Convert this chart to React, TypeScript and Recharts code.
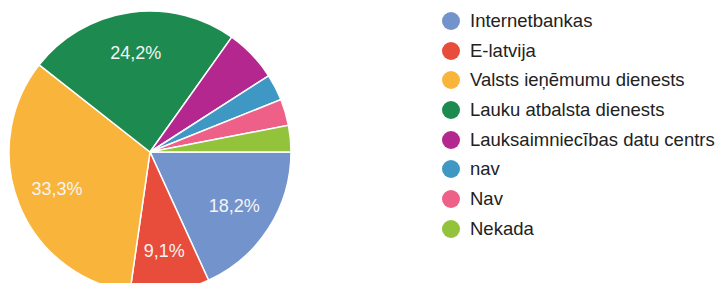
import React from 'react';
import { PieChart, Pie, Cell } from 'recharts';

const categories = [
  'Internetbankas',
  'E-latvija',
  'Valsts ieņēmumu dienests',
  'Lauku atbalsta dienests',
  'Lauksaimniecības datu centrs',
  'nav',
  'Nav',
  'Nekada',
];
const counts = [6, 3, 11, 8, 2, 1, 1, 1];
const colors = ['#7393cc', '#e84c3a', '#f9b53b', '#1d8b50', '#b4278e', '#3f98c4', '#ef6088', '#93c23b'];

const data = categories.map((name, i) => ({ name, value: counts[i] }));

const RAD = Math.PI / 180;

const renderLabel = (props: any) => {
  const { cx, cy, midAngle, outerRadius, percent } = props;
  if (percent < 0.08) return null;
  const r = outerRadius * 0.71;
  const x = cx + r * Math.cos(-midAngle * RAD);
  const y = cy + r * Math.sin(-midAngle * RAD);
  const txt = (percent * 100).toFixed(1).replace('.', ',') + '%';
  return (
    <text x={x} y={y} fill="#f4f4f4" fontSize={18} fontFamily="Liberation Sans, Arial, sans-serif" textAnchor="middle" dominantBaseline="central">
      {txt}
    </text>
  );
};

export default function App() {
  return (
    <div style={{ position: 'relative', width: 718, height: 283, background: '#fff', overflow: 'hidden' }}>
      <style>{'body{margin:0;background:#fff}'}</style>
      <PieChart width={718} height={283} margin={{ top: 0, right: 0, bottom: 0, left: 0 }}>
        <Pie
          data={data}
          dataKey="value"
          nameKey="name"
          cx={150}
          cy={152}
          outerRadius={141}
          startAngle={0}
          endAngle={-360}
          stroke="#ffffff"
          strokeWidth={1.5}
          label={renderLabel}
          labelLine={false}
          isAnimationActive={false}
        >
          {data.map((d, i) => (
            <Cell key={d.name} fill={colors[i]} />
          ))}
        </Pie>
      </PieChart>
      <div
        style={{
          position: 'absolute',
          left: 442,
          top: 6,
          fontFamily: 'Liberation Sans, Arial, sans-serif',
          fontSize: 18.5,
          color: '#222',
        }}
      >
        {categories.map((c, i) => (
          <div key={c} style={{ display: 'flex', alignItems: 'center', height: 29.7, whiteSpace: 'nowrap' }}>
            <span style={{ display: 'inline-block', width: 18, height: 18, borderRadius: 9, background: colors[i], marginRight: 10 }} />
            <span>{c}</span>
          </div>
        ))}
      </div>
    </div>
  );
}
